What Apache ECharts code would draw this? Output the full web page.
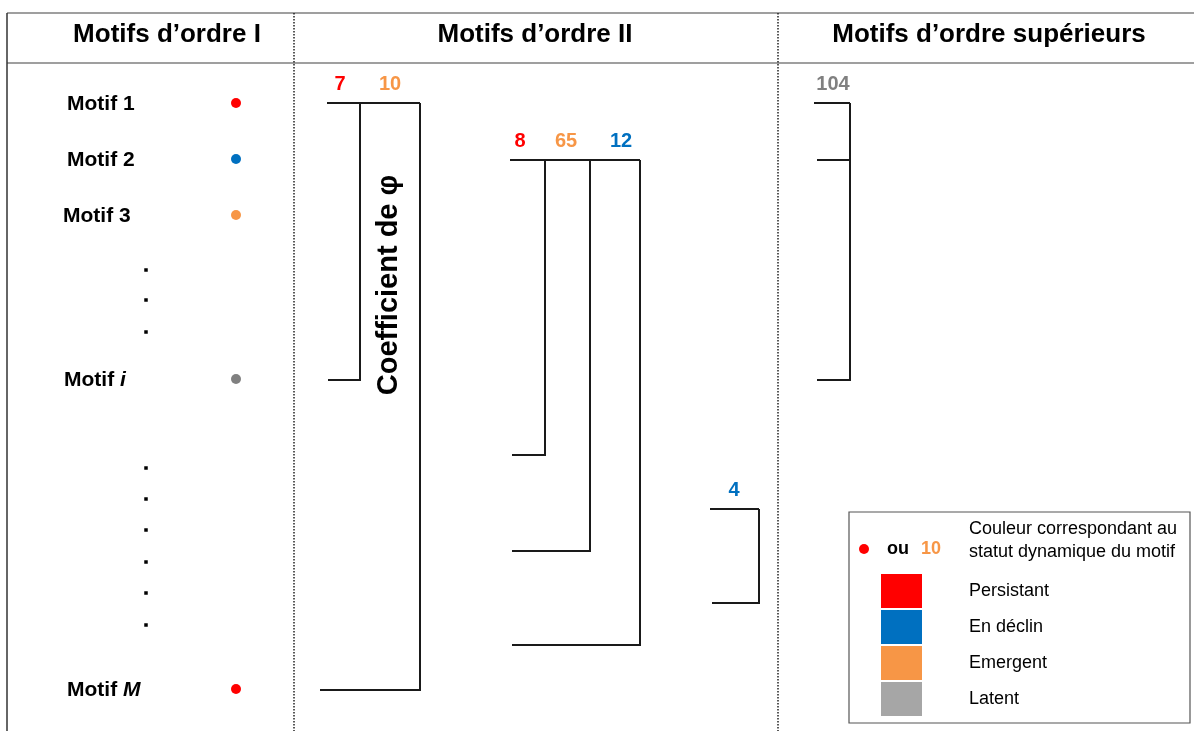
<!DOCTYPE html>
<html>
<head>
<meta charset="utf-8">
<script src="https://cdn.jsdelivr.net/npm/echarts@6/dist/echarts.min.js"></script>
<style>
html,body{margin:0;padding:0;background:#fff;}
#chart{width:1194px;height:731px;}
</style>
</head>
<body>
<div id="chart"></div>
<script>
// ---------- data ----------
const columnTitles = ['Motifs d\u2019ordre I', 'Motifs d\u2019ordre II', 'Motifs d\u2019ordre supérieurs'];
const columnTitleX = [167, 535, 989];

const statusNames = ['Persistant', 'En déclin', 'Emergent', 'Latent'];
const statusColors = ['#FF0000', '#0070C0', '#F79646', '#A6A6A6'];
const statusTextColors = ['#FF0000', '#0070C0', '#F79646', '#808080'];

const motifLabels = ['Motif 1', 'Motif 2', 'Motif 3', 'Motif {it|i}', 'Motif {it|M}'];
const motifLabelX = [67, 67, 63, 64, 67];
const motifRowY = [104, 160, 216, 380, 690];
const motifStatus = [0, 1, 2, 3, 0];
const motifDotX = 236;
const ellipsisX = 146;
const ellipsisY = [270, 300, 332, 468, 499, 530, 562, 593, 625];

// dendrogram brackets (x: merge level, y: row)
const clusterTopY = [103, 160, 509, 103];
const clusterStartX = [327, 510, 710, 814];
const clusterEndX = [420, 640, 759, 850];
const branchX = [[360, 420], [545, 590, 640], [759], [850, 850]];
const branchY = [[380, 690], [455, 551, 645], [603], [160, 380]];
const branchFromX = [[328, 320], [512, 512, 512], [712], [817, 817]];
const clusterCounts = [[7, 10], [8, 65, 12], [4], [104]];
const clusterCountStatus = [[0, 2], [0, 2, 1], [1], [3]];
const clusterCountX = [[340, 390], [520, 566, 621], [734], [833]];

// ---------- build ----------
const FONT = "'Liberation Sans', Arial, sans-serif";
const chart = echarts.init(document.getElementById('chart'));

const countData = [];
clusterCounts.forEach((arr, c) => arr.forEach((v, k) => {
  countData.push({
    value: [clusterCountX[c][k], clusterTopY[c] - 19],
    name: String(v),
    label: { color: statusTextColors[clusterCountStatus[c][k]] }
  });
}));

const graphics = [];
// table frame
const lineStyle = { stroke: '#7f7f7f', lineWidth: 1.5 };
graphics.push({ type: 'line', shape: { x1: 7, y1: 13, x2: 1194, y2: 13 }, style: lineStyle, silent: true });
graphics.push({ type: 'line', shape: { x1: 7, y1: 63, x2: 1194, y2: 63 }, style: lineStyle, silent: true });
graphics.push({ type: 'line', shape: { x1: 7, y1: 13, x2: 7, y2: 731 }, style: { stroke: '#333', lineWidth: 1.5 }, silent: true });
[294, 778].forEach(x => graphics.push({ type: 'line', shape: { x1: x, y1: 13, x2: x, y2: 731 },
  style: { stroke: '#222', lineWidth: 1.5, lineDash: [1.5, 1.5] }, silent: true }));
columnTitles.forEach((t, i) => graphics.push({ type: 'text', x: columnTitleX[i], y: 35,
  style: { text: t, fill: '#000', font: 'bold 26px ' + FONT, textAlign: 'center', textVerticalAlign: 'middle' } }));
// axis-like title
graphics.push({ type: 'text', x: 389, y: 285, rotation: Math.PI / 2,
  style: { text: 'Coefficient de \u03C6', fill: '#000', font: 'bold 29px ' + FONT, textAlign: 'center', textVerticalAlign: 'middle' } });
// legend box
graphics.push({ type: 'rect', shape: { x: 849, y: 512, width: 341, height: 211 }, style: { fill: '#fff', stroke: '#555', lineWidth: 1.2 } });
graphics.push({ type: 'circle', shape: { cx: 864, cy: 549, r: 5 }, style: { fill: statusColors[0] } });
graphics.push({ type: 'text', x: 887, y: 549, style: { text: 'ou', fill: '#000', font: 'bold 18px ' + FONT, textVerticalAlign: 'middle' } });
graphics.push({ type: 'text', x: 921, y: 549, style: { text: '10', fill: statusTextColors[2], font: 'bold 18px ' + FONT, textVerticalAlign: 'middle' } });
graphics.push({ type: 'text', x: 969, y: 529, style: { text: 'Couleur correspondant au', fill: '#000', font: '18px ' + FONT, textVerticalAlign: 'middle' } });
graphics.push({ type: 'text', x: 969, y: 552, style: { text: 'statut dynamique du motif', fill: '#000', font: '18px ' + FONT, textVerticalAlign: 'middle' } });
const legendSqY = [574, 610, 646, 682];
statusNames.forEach((n, i) => {
  graphics.push({ type: 'rect', shape: { x: 881, y: legendSqY[i], width: 41, height: 34 }, style: { fill: statusColors[i] } });
  graphics.push({ type: 'text', x: 969, y: legendSqY[i] + 17, style: { text: n, fill: '#000', font: '18px ' + FONT, textVerticalAlign: 'middle' } });
});

const option = {
  animation: false,
  backgroundColor: '#fff',
  grid: { left: 0, right: 0, top: 0, bottom: 0 },
  xAxis: { type: 'value', min: 0, max: 1194, show: false },
  yAxis: { type: 'value', min: 0, max: 731, inverse: true, show: false },
  series: [
    {
      type: 'custom',
      name: 'dendro',
      silent: true,
      data: clusterTopY.map((y, i) => [clusterStartX[i], y]),
      renderItem: function (params, api) {
        const c = params.dataIndex;
        const children = [];
        const st = { stroke: '#1a1a1a', lineWidth: 2, fill: null };
        children.push({ type: 'polyline', shape: { points: [api.coord([clusterStartX[c], clusterTopY[c]]), api.coord([clusterEndX[c], clusterTopY[c]])] }, style: st });
        branchX[c].forEach((bx, k) => {
          children.push({ type: 'polyline', shape: { points: [
            api.coord([branchFromX[c][k], branchY[c][k]]),
            api.coord([bx, branchY[c][k]]),
            api.coord([bx, clusterTopY[c]])
          ] }, style: st });
        });
        return { type: 'group', children: children };
      }
    },
    {
      type: 'scatter',
      name: 'counts',
      silent: true,
      symbolSize: 0,
      itemStyle: { opacity: 1 },
      data: countData,
      label: { show: true, position: 'inside', formatter: p => p.name, fontFamily: FONT, fontWeight: 'bold', fontSize: 20 }
    },
    {
      type: 'scatter',
      name: 'motif dots',
      silent: true,
      symbol: 'circle',
      symbolSize: 10,
      data: motifRowY.map((y, i) => ({ value: [motifDotX, y - 1], itemStyle: { color: statusTextColors[motifStatus[i]], opacity: 1 } }))
    },
    {
      type: 'scatter',
      name: 'motif labels',
      silent: true,
      symbolSize: 0,
      itemStyle: { opacity: 1 },
      data: motifRowY.map((y, i) => ({ value: [motifLabelX[i], y], name: motifLabels[i] })),
      label: {
        show: true, position: 'right', distance: 0, formatter: p => p.name,
        color: '#000', fontFamily: FONT, fontWeight: 'bold', fontSize: 21,
        rich: { it: { fontStyle: 'italic', fontWeight: 'bold', fontSize: 21, fontFamily: FONT, color: '#000' } }
      }
    },
    {
      type: 'scatter',
      name: 'ellipsis',
      silent: true,
      symbol: 'rect',
      symbolSize: 3.5,
      itemStyle: { color: '#000', opacity: 1 },
      data: ellipsisY.map(y => [ellipsisX, y])
    }
  ],
  graphic: graphics
};
chart.setOption(option);
</script>
</body>
</html>
